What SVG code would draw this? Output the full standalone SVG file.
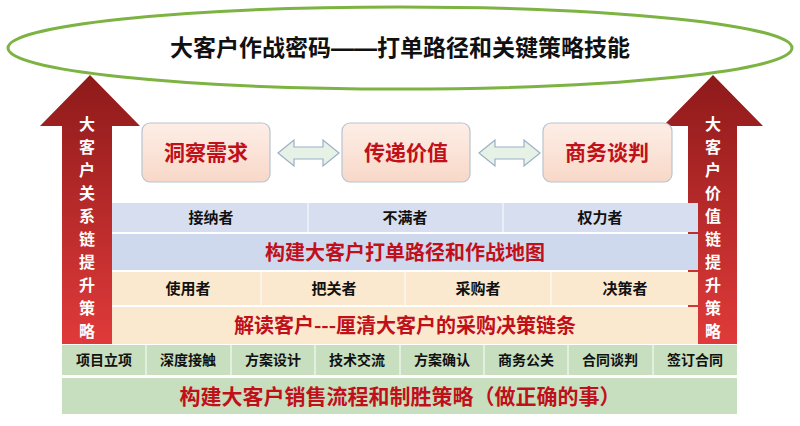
<svg xmlns="http://www.w3.org/2000/svg" width="800" height="426" viewBox="0 0 800 426">
<defs>
<linearGradient id="arr" x1="0" y1="0" x2="0" y2="1"><stop offset="0" stop-color="#8e1a1a"/><stop offset="1" stop-color="#e03a3a"/></linearGradient>
<linearGradient id="box" x1="0" y1="0" x2="0" y2="1"><stop offset="0" stop-color="#fdeee6"/><stop offset="1" stop-color="#f8d8c8"/></linearGradient>
</defs>
<style>
.k{font-family:"Liberation Sans","Noto Sans CJK SC",sans-serif;font-weight:bold;text-anchor:middle;fill:#111}
.r{font-family:"Noto Sans CJK SC",serif;font-weight:bold;text-anchor:middle;fill:#c0101a}
.v{font-family:"Noto Sans CJK SC",sans-serif;font-weight:bold;text-anchor:middle;fill:#fff;font-size:16px}
.dbl{fill:#e6f2e6;stroke:#9bb0c8;stroke-width:1.2}
.bx{fill:url(#box);stroke:#b8c4d0;stroke-width:1.2}
</style>
<rect width="800" height="426" fill="#fff"/>
<g id="title"><ellipse cx="400" cy="48" rx="392" ry="41" fill="#fff" stroke="#7cb342" stroke-width="3"/>
<text class="k" x="400" y="56" font-size="23">大客户作战密码——打单路径和关键策略技能</text></g>
<g id="leftArrow"><polygon points="90,75 140,126 112,126 112,344 62,344 62,126 40,126" fill="url(#arr)"/>
<text class="v" x="87" y="130">大</text><text class="v" x="87" y="153">客</text><text class="v" x="87" y="176">户</text><text class="v" x="87" y="199">关</text><text class="v" x="87" y="222">系</text><text class="v" x="87" y="245">链</text><text class="v" x="87" y="268">提</text><text class="v" x="87" y="291">升</text><text class="v" x="87" y="314">策</text><text class="v" x="87" y="337">略</text></g>
<g id="rightArrow"><polygon points="713,75 763,126 737,126 737,344 688,344 688,126 663,126" fill="url(#arr)"/>
<text class="v" x="713" y="130">大</text><text class="v" x="713" y="153">客</text><text class="v" x="713" y="176">户</text><text class="v" x="713" y="199">价</text><text class="v" x="713" y="222">值</text><text class="v" x="713" y="245">链</text><text class="v" x="713" y="268">提</text><text class="v" x="713" y="291">升</text><text class="v" x="713" y="314">策</text><text class="v" x="713" y="337">略</text></g>
<g id="n1"><rect class="bx" x="142" y="123" width="128" height="59" rx="8"/><text class="r" x="206" y="160" font-size="21">洞察需求</text></g>
<g id="n2"><rect class="bx" x="342" y="123" width="128" height="59" rx="8"/><text class="r" x="406" y="160" font-size="21">传递价值</text></g>
<g id="n3"><rect class="bx" x="543" y="123" width="129" height="59" rx="8"/><text class="r" x="607" y="160" font-size="21">商务谈判</text></g>
<g id="connectors">
<polygon class="dbl" points="278,153 294,140 294,147 323,147 323,140 339,153 323,166 323,159 294,159 294,166"/>
<polygon class="dbl" points="479,153 495,140 495,147 524,147 524,140 540,153 524,166 524,159 495,159 495,166"/>
</g>
<g id="row1">
<rect x="112" y="203" width="586" height="29" fill="#d6deef"/>
<line x1="308" y1="203" x2="308" y2="232" stroke="#fff"/><line x1="503" y1="203" x2="503" y2="232" stroke="#fff"/>
<text class="k" x="211" y="223" font-size="15">接纳者</text><text class="k" x="405" y="223" font-size="15">不满者</text><text class="k" x="600" y="223" font-size="15">权力者</text></g>
<g id="row2"><rect x="112" y="234" width="586" height="36" fill="#cfd9ee"/>
<text class="r" x="405" y="260" font-size="20">构建大客户打单路径和作战地图</text></g>
<g id="row3"><rect x="112" y="272" width="586" height="33" fill="#fbe9cf"/>
<line x1="261" y1="272" x2="261" y2="305" stroke="#fff"/><line x1="405" y1="272" x2="405" y2="305" stroke="#fff"/><line x1="551" y1="272" x2="551" y2="305" stroke="#fff"/>
<text class="k" x="188" y="294" font-size="15">使用者</text><text class="k" x="334" y="294" font-size="15">把关者</text><text class="k" x="478" y="294" font-size="15">采购者</text><text class="k" x="625" y="294" font-size="15">决策者</text></g>
<g id="row4"><rect x="112" y="307" width="586" height="37" fill="#fbe9cf"/>
<text class="r" x="405" y="333" font-size="20">解读客户---厘清大客户的采购决策链条</text></g>
<g id="stages"><rect x="62" y="345" width="675" height="30" fill="#c7dfbe"/>
<g stroke="#fff"><line x1="146" y1="345" x2="146" y2="375"/><line x1="231" y1="345" x2="231" y2="375"/><line x1="315" y1="345" x2="315" y2="375"/><line x1="400" y1="345" x2="400" y2="375"/><line x1="484" y1="345" x2="484" y2="375"/><line x1="568" y1="345" x2="568" y2="375"/><line x1="653" y1="345" x2="653" y2="375"/></g>
<g font-size="14"><text class="k" x="104" y="365">项目立项</text><text class="k" x="188" y="365">深度接触</text><text class="k" x="273" y="365">方案设计</text><text class="k" x="357" y="365">技术交流</text><text class="k" x="442" y="365">方案确认</text><text class="k" x="526" y="365">商务公关</text><text class="k" x="610" y="365">合同谈判</text><text class="k" x="695" y="365">签订合同</text></g></g>
<g id="bottom"><rect x="62" y="378" width="675" height="36" fill="#c7dfbe"/>
<text class="k" x="400" y="404" font-size="21" style="fill:#c0101a">构建大客户销售流程和制胜策略（做正确的事）</text></g>
</svg>
